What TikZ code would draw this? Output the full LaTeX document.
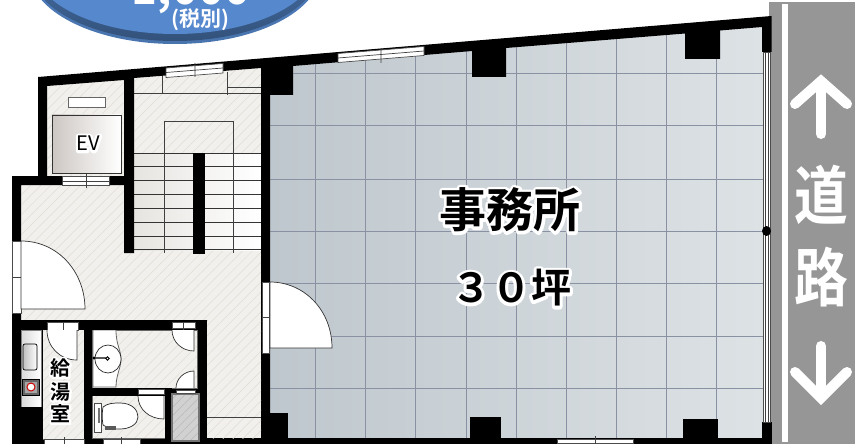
\documentclass[tikz,border=0pt]{standalone}
\usepackage{fontspec}
\usetikzlibrary{patterns.meta}
\setmainfont{Noto Sans CJK JP}[BoldFont={Noto Sans CJK JP Bold}]
\definecolor{floorc}{HTML}{F2F0EC}
\definecolor{hatchc}{HTML}{E0DDD6}
\definecolor{gridc}{HTML}{8A91A3}
\definecolor{roadc}{HTML}{969696}
\definecolor{ballb}{HTML}{5588CC}
\newcommand{\halotxt}[2]{\leavevmode\rlap{\special{pdf:code 2 Tr #1 w 1 j}\textcolor{white}{#2}\special{pdf:code 0 Tr 1 w}}#2}
\tikzset{
 x=1pt,y=-1pt,
 floorhatch/.style={fill=floorc},
 hatchover/.style={pattern={Lines[angle=45,distance=7pt,line width=.5pt]},pattern color=hatchc},
 wall/.style={fill=black,draw=none},
 fineline/.style={draw=black!75,line width=.7pt},
 sill/.style={fill=white,draw=black!70,line width=.7pt},
 doorleaf/.style={fill=white,draw=black!80,line width=.7pt},
 gridline/.style={draw=gridc,line width=1pt},
 roadarrow/.style={draw=white,line width=10pt,line join=miter},
 roadtext/.style={text=white,font=\bfseries\fontsize{64}{64}\selectfont,inner sep=0pt},
 halolabel/.style={text=black,inner sep=0pt,align=center},
}
\begin{document}
\begin{tikzpicture}
\useasboundingbox (0,0) rectangle (855,444);
\clip (0,0) rectangle (855,444);
% road
\path[fill=roadc] (769,2) rectangle (855,444);
\path[fill=white] (782,4) rectangle (788,442);
\draw[roadarrow,line cap=round] (821,134) -- (821,85);
\draw[roadarrow,line cap=round] (795,104) -- (821,81) -- (847,104);
\draw[roadarrow,line cap=round] (821,346) -- (821,395);
\draw[roadarrow,line cap=round] (795,372) -- (821,398) -- (847,372);
\node[roadtext] (roadA) at (821,195) {\scalebox{.84}[1]{道}};
\node[roadtext] (roadB) at (821,277) {\scalebox{.84}[1]{路}};
% office floor
\path[left color={rgb,255:red,190;green,199;blue,205},right color={rgb,255:red,221;green,226;blue,229}]
  (269,58) -- (763,17) -- (763,440) -- (269,440) -- cycle;
% grid
\begin{scope}
\clip (269,58) -- (763,17) -- (763,440) -- (269,440) -- cycle;
\foreach \gx in {315,365,415,466,516,566,616,666,716}{\draw[gridline] (\gx,15) -- (\gx,440);}
\foreach \gy in {74,126,179,231,283,336,388}{\draw[gridline] (269,\gy) -- (763,\gy);}
\end{scope}
% service floors
\foreach \hstyle in {floorhatch,hatchover}{
 \path[\hstyle] (47,84) -- (125,78) -- (125,177) -- (47,177) -- cycle;
 \path[\hstyle] (134,70) -- (261,60) -- (261,154) -- (134,154) -- cycle;
 \path[\hstyle] (21,184) -- (125,184) -- (125,250) -- (261,250) -- (261,440) -- (200,440) -- (200,322) -- (21,322) -- cycle;
}
% stairs
\shade[left color=floorc!90!gray,right color=white,shading angle=90] (134,153) rectangle (261,250);
\foreach \sy in {153,166,180,194,208,222,236,249}{\draw[draw=black!80,line width=.7pt] (134,\sy) -- (261,\sy);}
\draw[fineline] (164.5,121) -- (164.5,253) (233,121) -- (233,253) (164.5,121) -- (233,121);
\draw[fineline] (134,93) -- (261,93) (162.5,76) -- (162.5,93) (227,72) -- (227,95) (227,87) -- (261,87);
% elevator
\draw[sill,draw=black!60,line width=1pt] (68,98) rectangle (105,108);
\shade[left color={rgb,255:red,205;green,199;blue,195},right color=white,shading angle=90] (52,115) rectangle (121,173);
\draw[draw=black!80,line width=.9pt] (52,115) rectangle (121,173);
% walls
\path[wall] (38,77) -- (771.5,16) -- (771.5,52) -- (762,52) -- (762,27) -- (720,30.5) -- (720,59) -- (685,59) -- (685,33.5) -- (506,48) -- (506,77) -- (472,77) -- (472,51) -- (293,66) -- (293,95) -- (270,95) -- (270,444) -- (261,444) -- (261,68) -- (134,78) -- (134,253) -- (124,253) -- (124,80) -- (47,86) -- (47,176) -- (124,176) -- (124,185) -- (21,185) -- (21,320) -- (207,320) -- (207,444) -- (12,444) -- (12,176) -- (38,176) -- cycle;
\path[wall] (193,153) rectangle (205,254);
\path[wall] (269,413) rectangle (288,444);
\path[wall] (470,417) rectangle (501,444);
\path[wall] (683,419) rectangle (718,444);
\path[wall] (12,438) rectangle (771.5,444);
\path[wall] (762,422) rectangle (771.5,444);
% inner rooms
\foreach \hstyle in {floorhatch,hatchover}{
 \path[\hstyle] (43,330) rectangle (84,439);
 \path[\hstyle] (92,330) rectangle (197,388);
 \path[\hstyle] (92,396) rectangle (165,438);
 \path[\hstyle] (207,321) rectangle (261,438);
}
\draw[fineline] (207,417) -- (261,417);
\draw[draw=black!60,line width=.8pt] (92.5,330) rectangle (197,388);
\draw[draw=black!60,line width=.8pt] (92.5,396) -- (92.5,438) -- (165,438) -- (165,396);
% kitchen counter
\shade[left color=black!15,right color=white,shading angle=90,draw=black!50] (21,330) rectangle (41,407);
\shade[left color=black!25,right color=white,shading angle=90,draw=black,line width=.7pt,rounded corners=2pt] (23,344) rectangle (37,370);
\path[fill=black!60,draw=black] (22.5,379) rectangle (39,395);
\path[fill=black!35,draw=none] (25,382) rectangle (37,393);
\draw[fill=white,draw=red!80!black,line width=1pt] (31,387) circle[radius=4];
\path[wall] (21,407) rectangle (43,444);
% wash counter
\path[fill=white,draw=black!60,line width=.8pt] (93,330) -- (116,330) .. controls (116,345) and (121,350) .. (121,359) .. controls (121,368) and (116,375) .. (116,387) -- (93,387) -- cycle;
\draw[fill=white,draw=black!85,line width=.7pt] (108,359) ellipse[x radius=13,y radius=14];
\draw[draw=black!65,line width=2.2pt] (94,358) -- (106,358);
\path[fill=black] (94,358) circle[radius=1.6];
\draw[fill=white,draw=black,line width=.8pt] (107.5,358.5) circle[radius=1.7];
% toilet
\path[fill=white,draw=black!70,line width=.7pt] (94.5,403) rectangle (101,432);
\path[fill=black!55] (98,408) rectangle (100,423);
\path[fill=white,draw=black!85,line width=.7pt] (103,407) .. controls (108,403) and (114,403) .. (120,403) .. controls (132,403) and (138,410) .. (138,417) .. controls (138,424) and (130,429) .. (120,429) .. controls (112,429) and (108,428) .. (103,425) .. controls (102,420) and (102,412) .. (103,407) -- cycle;
\path[fill=black!65] (105,426) rectangle (116,429.5);
% grey closet
\path[fill=black!18] (172,393) rectangle (199,441);
\path[pattern={Lines[angle=45,distance=6pt,line width=.5pt]},pattern color=black!28] (172,393) rectangle (199,441);
\path[wall] (165,388) rectangle (171,444);
\path[wall] (84,320) rectangle (92,444);
\path[wall] (92,388) rectangle (172,396);
\path[wall] (199,321) rectangle (207,444);
\path[wall] (21,320) rectangle (197,330);
\draw[draw=black!55,line width=2pt] (172,394) rectangle (199,441);
% windows
\path[sill] (12.5,241) rectangle (21,313);
\draw[fineline] (13,277) -- (23,277);
\path[sill] (262,282) rectangle (269,353);
\draw[fineline] (263,317) -- (272,317);
\path[sill] (62,176.5) rectangle (109,185.5);
\draw[fineline] (62,181) -- (109,181) (86,174) -- (86,188);
\path[sill] (166,68) -- (223,63.5) -- (223,73) -- (166,77.5) -- cycle;
\draw[fineline] (166,72.5) -- (223,68) (195,63) -- (195,77);
\path[sill] (338,53.5) -- (424,46.5) -- (424,55.5) -- (338,62.5) -- cycle;
\draw[fineline] (338,58) -- (424,51) (381,49) -- (381,63);
\path[sill] (557,439) rectangle (633,443);
\draw[fineline] (595,436) -- (595,444);
\path[sill] (44,439.5) rectangle (84,445);
\draw[fineline] (64,437) -- (64,444);
\path[sill] (103,439.5) rectangle (140,445);
\draw[fineline] (121,437) -- (121,444);
\path[sill] (47,322) rectangle (78,330);
\draw[fineline] (63,322) -- (63,332);
\path[sill] (172,322) rectangle (195,328);
\draw[fineline] (183,322) -- (183,331);
\path[sill] (138,389) rectangle (164,394);
\path[sill] (176,390) rectangle (195,393);
% right glazing
\path[sill] (763,52) rectangle (770.5,422);
\draw[fineline] (765,52) -- (765,422) (768,52) -- (768,422);
\draw[fill=black,draw=none] (766.5,231) ellipse[x radius=4.5,y radius=5];
% doors
\path[doorleaf] (21,241) .. controls (58,241) and (85,272) .. (85,309) -- (21,309) -- cycle;
\path[doorleaf] (270,282) .. controls (304,282) and (332,310) .. (332,348) -- (270,348) -- cycle;
\path[doorleaf] (47,330) .. controls (47,347) and (60,360) .. (77,360) -- (77,330);
\path[doorleaf] (172,330) .. controls (172,342) and (182,351) .. (194,351) -- (194,330);
\path[doorleaf] (176,388) .. controls (176,379) and (184,371) .. (194,371) -- (194,388);
\path[doorleaf] (138,396) .. controls (138,409) and (149,419) .. (164,419) -- (164,396);
% labels
\node[halolabel,font=\bfseries\fontsize{47}{47}\selectfont] (office) at (510,210) {\halotxt{6}{事務所}};
\node[halolabel,font=\bfseries\fontsize{40}{40}\selectfont] (area) at (511,288) {\halotxt{6}{３０坪}};
\node[halolabel,font=\fontsize{20}{20}\selectfont] (ev) at (88,143.5) {\halotxt{5}{EV}};
\node[halolabel,font=\bfseries\fontsize{20}{23}\selectfont] (kyu) at (60.5,368) {\halotxt{4}{給}};
\node[halolabel,font=\bfseries\fontsize{20}{23}\selectfont] (yu) at (60.5,392) {\halotxt{4}{湯}};
\node[halolabel,font=\bfseries\fontsize{20}{23}\selectfont] (shitsu) at (60.5,414) {\halotxt{4}{室}};
% badge
\shade[top color=ballb,bottom color=ballb!85!black] (175,-30) ellipse[x radius=146,y radius=74];
\shade[top color=ballb,bottom color=ballb!60!black] (175,-31) ellipse[x radius=144.5,y radius=72];
\path[fill=ballb] (175,-35) ellipse[x radius=142,y radius=69];
\node[text=white,font=\fontsize{21}{21}\selectfont,inner sep=0pt] (tax) at (200,20) {\bfseries (税別)};
\node[text=white,font=\bfseries\fontsize{44}{44}\selectfont,inner sep=0pt,anchor=base] (price) at (191,4.5) {1,000};
\end{tikzpicture}
\end{document}
